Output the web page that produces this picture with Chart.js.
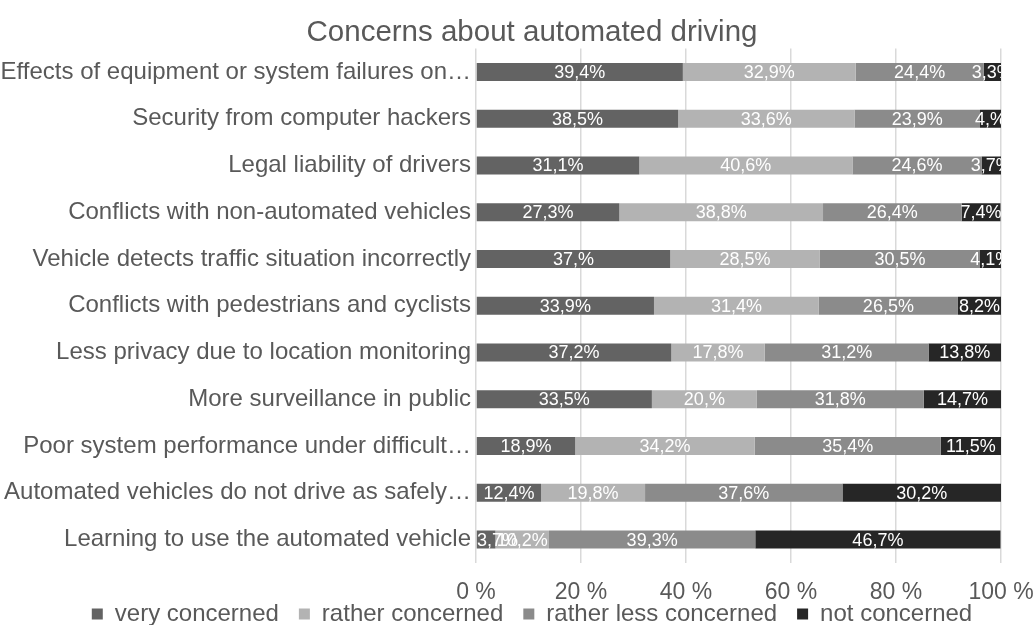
<!DOCTYPE html>
<html>
<head>
<meta charset="utf-8">
<title>Concerns about automated driving</title>
<script src="https://cdn.jsdelivr.net/npm/chart.js@4"></script>
<style>
    html, body { margin: 0; padding: 0; background: #ffffff; }
    #chart-wrap { width: 1036px; height: 625px; }
</style>
</head>
<body>
<div id="chart-wrap"><canvas id="concernsChart"></canvas></div>
<script>
// --- Datos ---
const categorias = [
    'Effects of equipment or system failures on…',
    'Security from computer hackers',
    'Legal liability of drivers',
    'Conflicts with non-automated vehicles',
    'Vehicle detects traffic situation incorrectly',
    'Conflicts with pedestrians and cyclists',
    'Less privacy due to location monitoring',
    'More surveillance in public',
    'Poor system performance under difficult…',
    'Automated vehicles do not drive as safely…',
    'Learning to use the automated vehicle'
];
const veryConcerned = [39.4, 38.5, 31.1, 27.3, 37.0, 33.9, 37.2, 33.5, 18.9, 12.4, 3.7];
const ratherConcerned = [32.9, 33.6, 40.6, 38.8, 28.5, 31.4, 17.8, 20.0, 34.2, 19.8, 10.2];
const ratherLessConcerned = [24.4, 23.9, 24.6, 26.4, 30.5, 26.5, 31.2, 31.8, 35.4, 37.6, 39.3];
const notConcerned = [3.3, 4.0, 3.7, 7.4, 4.1, 8.2, 13.8, 14.7, 11.5, 30.2, 46.7];
const ticksX = [0, 20, 40, 60, 80, 100];

document.addEventListener('DOMContentLoaded', () => {
    const textoGris = '#595959';
    const margenIzq = 63; // centra título y leyenda como en el original
    Chart.defaults.font.family = "'Liberation Sans', Arial, sans-serif";
    Chart.defaults.color = textoGris;

    // Formato tipo Excel: "37,%" cuando no hay decimal
    const formatoEtiqueta = (v) => {
        const r = Math.round(v * 10) / 10;
        if (Number.isInteger(r)) return `${r},%`;
        return `${r.toFixed(1).replace('.', ',')}%`;
    };

    // --- Plugin para etiquetas dentro de las barras ---
    const etiquetasBarras = {
        id: 'etiquetasBarras',
        afterDatasetsDraw(chart) {
            const { ctx, chartArea } = chart;
            ctx.save();
            ctx.beginPath();
            ctx.rect(chartArea.left, chartArea.top - 20, chartArea.right - chartArea.left, chartArea.bottom - chartArea.top + 40);
            ctx.clip();
            ctx.font = "18px 'Liberation Sans', Arial, sans-serif";
            ctx.fillStyle = '#ffffff';
            ctx.textAlign = 'center';
            ctx.textBaseline = 'middle';
            chart.data.datasets.forEach((ds, i) => {
                const meta = chart.getDatasetMeta(i);
                meta.data.forEach((bar, j) => {
                    const texto = formatoEtiqueta(ds.data[j]);
                    const ancho = ctx.measureText(texto).width;
                    // no dejar que la etiqueta se salga por la izquierda
                    const cx = Math.max((bar.x + bar.base) / 2, chartArea.left + ancho / 2 + 1);
                    ctx.fillText(texto, cx, bar.y + 1);
                });
            });
            ctx.restore();
        }
    };

    // Ampliar las zonas de recorte de los ejes para que no se corten los textos
    const ajusteEjes = {
        id: 'ajusteEjes',
        afterLayout(chart) {
            chart.scales.x.bottom = chart.height;
            chart.scales.y.left = 0;
        }
    };

    const serie = (label, data, color) => ({
        label, data,
        backgroundColor: color,
        borderWidth: 0,
        barPercentage: 0.385,
        categoryPercentage: 1
    });

    new Chart(document.getElementById('concernsChart'), {
        type: 'bar',
        data: {
            labels: categorias,
            datasets: [
                serie('very concerned', veryConcerned, '#636363'),
                serie('rather concerned', ratherConcerned, '#b3b3b3'),
                serie('rather less concerned', ratherLessConcerned, '#8b8b8b'),
                serie('not concerned', notConcerned, '#262626')
            ]
        },
        options: {
            indexAxis: 'y',
            responsive: true,
            maintainAspectRatio: false,
            animation: false,
            layout: { padding: { left: margenIzq, right: 35, top: 0, bottom: -11 } },
            plugins: {
                title: {
                    display: true,
                    text: 'Concerns about automated driving',
                    color: textoGris,
                    font: { size: 29.5, weight: 'normal', lineHeight: 1 },
                    padding: { top: 18, bottom: 1 }
                },
                legend: {
                    position: 'bottom',
                    labels: {
                        color: textoGris,
                        font: { size: 24 },
                        boxWidth: 11,
                        boxHeight: 11,
                        padding: 20
                    }
                },
                tooltip: { enabled: false }
            },
            scales: {
                x: {
                    stacked: true,
                    min: 0,
                    max: 100,
                    afterBuildTicks: (scale) => { scale.ticks = ticksX.map(v => ({ value: v })); },
                    ticks: {
                        callback: (v) => `${v} %`,
                        font: { size: 23 },
                        color: textoGris,
                        padding: 16,
                        maxRotation: 0
                    },
                    grid: { color: '#d9d9d9', lineWidth: 1.5, drawTicks: false },
                    border: { display: false },
                    afterFit: (scale) => {
                        scale.height = 19;
                        scale.paddingLeft = 0;
                        scale.paddingRight = 0;
                    }
                },
                y: {
                    stacked: true,
                    ticks: {
                        font: { size: 24 },
                        color: textoGris,
                        padding: 5,
                        autoSkip: false
                    },
                    grid: { display: false, drawTicks: false },
                    border: { display: false },
                    afterFit: (scale) => { scale.width = 476 - margenIzq; }
                }
            }
        },
        plugins: [etiquetasBarras, ajusteEjes]
    });
});
</script>
</body>
</html>
